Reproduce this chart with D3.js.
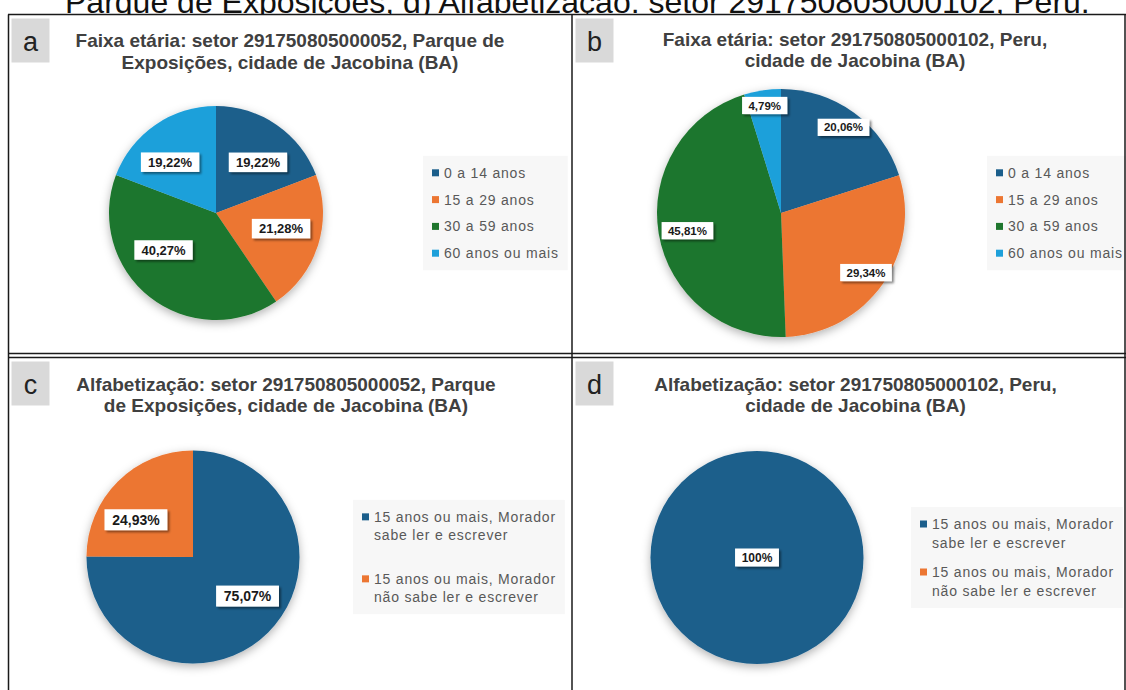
<!DOCTYPE html>
<html>
<head>
<meta charset="utf-8">
<script src="https://cdn.jsdelivr.net/npm/d3@7"></script>
<style>
  html, body { margin: 0; padding: 0; background: #fff; }
  svg { display: block; font-family: "Liberation Sans", Arial, sans-serif; }
</style>
</head>
<body>
<svg id="chart" width="1126" height="690"></svg>
<script>
// ---- data ----
const caption = "Parque de Exposições, d) Alfabetização: setor 291750805000102, Peru.";

const ageGroups = ["0 a 14 anos", "15 a 29 anos", "30 a 59 anos", "60 anos ou mais"];
const ageParque = [19.22, 21.28, 40.27, 19.22];
const agePeru = [20.06, 29.34, 45.81, 4.79];

const literacyGroups = [
  ["15 anos ou mais, Morador", "sabe ler e escrever"],
  ["15 anos ou mais, Morador", "não sabe ler e escrever"]
];
const literacyParque = [75.07, 24.93];
const literacyPeru = [100, 0];

const titleA = ["Faixa etária: setor 291750805000052, Parque de", "Exposições, cidade de Jacobina (BA)"];
const titleB = ["Faixa etária: setor 291750805000102, Peru,", "cidade de Jacobina (BA)"];
const titleC = ["Alfabetização: setor 291750805000052, Parque", "de Exposições, cidade de Jacobina (BA)"];
const titleD = ["Alfabetização: setor 291750805000102, Peru,", "cidade de Jacobina (BA)"];

const ageColors = ["#1b5e8b", "#ec7632", "#1f762d", "#1ea0da"];
const literacyColors = ["#1b5e8b", "#ec7632"];

// ---- layout of the four panels ----
// labelR: label distance as a fraction of the radius; labelTurn: degrees the
// label is turned away from the slice's mid-angle (best-fit placement)
const panels = [
  { tag: "a", legend: ageGroups.map(d => [d]), values: ageParque, colors: ageColors, title: titleA,
    box: [8, 14.5, 572, 354], titleX: 290, titleY: [47, 68.5],
    cx: 216, cy: 213, r: 107, labelSize: 13,
    labelR: [0.615, 0.625, 0.6, 0.64], labelTurn: [5, -4, 16.5, -7.5],
    legendX: 432, itemGap: 26.8, lineGap: 18 },
  { tag: "b", legend: ageGroups.map(d => [d]), values: agePeru, colors: ageColors, title: titleB,
    box: [572, 14.5, 1126, 354], titleX: 855, titleY: [46, 67],
    cx: 781, cy: 213, r: 124, labelSize: 11.5,
    labelR: [0.855, 0.837, 0.768, 0.877], labelTurn: [0, 0, -1, 0],
    legendX: 996, itemGap: 26.8, lineGap: 18 },
  { tag: "c", legend: literacyGroups, values: literacyParque, colors: literacyColors, title: titleC,
    box: [8, 357.5, 572, 690], titleX: 286, titleY: [390.5, 412],
    cx: 193, cy: 557, r: 106.5, labelSize: 14,
    labelR: [0.63, 0.64], labelTurn: [-9.5, -12],
    legendX: 362, itemGap: 62, lineGap: 18.3 },
  { tag: "d", legend: literacyGroups, values: literacyPeru, colors: literacyColors, title: titleD,
    box: [572, 357.5, 1126, 690], titleX: 855.5, titleY: [390.5, 412],
    cx: 757, cy: 557.5, r: 106.5, labelSize: 12,
    labelR: [0.63, 0.63], labelTurn: [0, 0],
    legendX: 920, itemGap: 48, lineGap: 19 }
];

const svg = d3.select("#chart");
const defs = svg.append("defs");

const pieShadow = defs.append("filter").attr("id", "pieShadow")
  .attr("x", "-20%").attr("y", "-20%").attr("width", "140%").attr("height", "140%");
pieShadow.append("feDropShadow").attr("dx", 0).attr("dy", 3).attr("stdDeviation", 5)
  .attr("flood-color", "#000").attr("flood-opacity", 0.3);

const labelShadow = defs.append("filter").attr("id", "labelShadow")
  .attr("x", "-20%").attr("y", "-30%").attr("width", "150%").attr("height", "170%");
labelShadow.append("feDropShadow").attr("dx", 2).attr("dy", 2).attr("stdDeviation", 1.2)
  .attr("flood-color", "#000").attr("flood-opacity", 0.45);

// figure caption line above the grid (its upper part runs off the page)
svg.append("text")
  .attr("x", 65).attr("y", 13)
  .attr("font-size", 32).attr("fill", "#111")
  .text(caption);

const fmt = v => Number.isInteger(v) ? v + "%" : v.toFixed(2).replace(".", ",") + "%";
const rad = Math.PI / 180;

panels.forEach(p => {
  const [x0, y0, x1, y1] = p.box;
  const g = svg.append("g");

  g.append("rect").attr("x", x0).attr("y", y0).attr("width", x1 - x0).attr("height", y1 - y0)
    .attr("fill", "#fff");

  // panel letter tag
  g.append("rect").attr("x", x0 + 3.5).attr("y", y0 + 4).attr("width", 38).attr("height", 44)
    .attr("fill", "#d9d9d9");
  g.append("text").attr("x", x0 + 22.5).attr("y", y0 + 36)
    .attr("text-anchor", "middle").attr("font-size", 27).attr("fill", "#222")
    .text(p.tag);

  // title
  const t = g.append("text").attr("text-anchor", "middle").attr("font-weight", "bold")
    .attr("font-size", 19).attr("fill", "#404040");
  p.title.forEach((line, i) => t.append("tspan").attr("x", p.titleX).attr("y", p.titleY[i]).text(line));

  // pie
  const pie = d3.pie().sort(null).value(d => d);
  const arcs = pie(p.values);
  const arc = d3.arc().innerRadius(0).outerRadius(p.r);
  const pg = g.append("g").attr("transform", `translate(${p.cx},${p.cy})`);
  pg.append("g").attr("filter", "url(#pieShadow)")
    .selectAll("path").data(arcs).join("path")
    .attr("d", arc)
    .attr("fill", (d, i) => p.colors[i]);

  // value labels
  arcs.forEach((d, i) => {
    if (d.data <= 0) return;
    const full = d.endAngle - d.startAngle >= 2 * Math.PI - 1e-6;
    const rr = p.r * p.labelR[i];
    const turn = p.labelTurn[i] * rad;
    const pos = full ? [0, 0]
      : d3.arc().innerRadius(rr).outerRadius(rr)
          .centroid({ startAngle: d.startAngle + turn, endAngle: d.endAngle + turn });
    const lg = pg.append("g").attr("transform", `translate(${pos[0]},${pos[1]})`);
    const txt = lg.append("text").attr("text-anchor", "middle").attr("dy", "0.36em")
      .attr("font-size", p.labelSize).attr("font-weight", "bold").attr("fill", "#1a1a1a")
      .text(fmt(d.data));
    const w = txt.node().getComputedTextLength() + p.labelSize * 1.1;
    const h = p.labelSize * 1.5;
    lg.insert("rect", "text").attr("x", -w / 2).attr("y", -h / 2).attr("width", w).attr("height", h)
      .attr("fill", "#fff").attr("filter", "url(#labelShadow)");
  });

  // legend
  const lines = p.legend[0].length;
  const span = (p.legend.length - 1) * p.itemGap + (lines - 1) * p.lineGap;
  const firstY = p.cy - span / 2;
  const lgBg = g.append("rect").attr("fill", "#f7f7f7");
  const leg = g.append("g");
  p.legend.forEach((item, i) => {
    const yi = firstY + i * p.itemGap;
    leg.append("rect").attr("x", p.legendX).attr("y", yi - 3.5).attr("width", 7).attr("height", 7)
      .attr("fill", p.colors[i]);
    const lt = leg.append("text").attr("font-size", 14).attr("letter-spacing", 0.8).attr("fill", "#595959");
    item.forEach((line, j) => lt.append("tspan").attr("x", p.legendX + 12)
      .attr("y", yi + j * p.lineGap).attr("dy", "0.36em").text(line));
  });
  const bb = leg.node().getBBox();
  lgBg.attr("x", bb.x - 9).attr("y", bb.y - 9)
    .attr("width", Math.min(bb.width + 18, x1 - (bb.x - 9)))
    .attr("height", bb.height + 18);
});

// grid lines
const grid = svg.append("g").attr("stroke", "#1a1a1a").attr("stroke-width", 1.5).attr("fill", "none");
grid.append("line").attr("x1", 8).attr("x2", 1126).attr("y1", 14.5).attr("y2", 14.5);
grid.append("line").attr("x1", 8.5).attr("x2", 8.5).attr("y1", 14.5).attr("y2", 690);
grid.append("line").attr("x1", 572).attr("x2", 572).attr("y1", 14.5).attr("y2", 690);
grid.append("line").attr("x1", 1125).attr("x2", 1125).attr("y1", 14.5).attr("y2", 690);
grid.append("line").attr("x1", 8).attr("x2", 1126).attr("y1", 353.5).attr("y2", 353.5);
grid.append("line").attr("x1", 8).attr("x2", 1126).attr("y1", 357.5).attr("y2", 357.5);
</script>
</body>
</html>
